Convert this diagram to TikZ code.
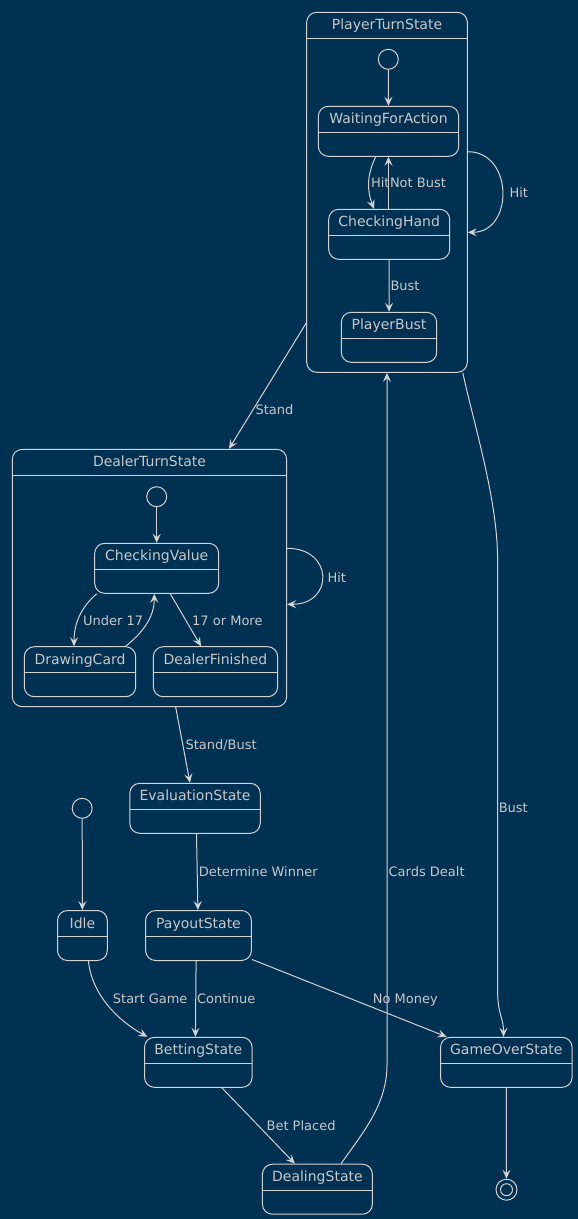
\documentclass[tikz,border=0pt]{standalone}
\usepackage{fontspec}
\setmainfont{DejaVu Sans}
\usetikzlibrary{arrows.meta}
\definecolor{bgblue}{HTML}{003153}
\definecolor{linegray}{HTML}{D3D3D3}
\definecolor{textgray}{HTML}{C8C8C8}

\begin{document}
\begin{tikzpicture}[
  x=1pt, y=-1pt,
  line width=1pt,
  > = {Stealth[length=9pt,width=8pt,inset=3.5pt]},
  arr/.style = {draw=linegray, ->},
  statebox/.style = {draw=linegray, rounded corners=10pt, minimum height=50pt, inner sep=0pt,
    path picture={\draw[linegray, sharp corners] ([yshift=-26pt]path picture bounding box.north west) -- ([yshift=-26pt]path picture bounding box.north east);}},
  statename/.style = {text=textgray, font=\fontsize{14pt}{16pt}\selectfont, inner sep=0pt, text height=10pt, text depth=0pt},
  edgelabel/.style = {text=textgray, font=\fontsize{13pt}{15pt}\selectfont, inner sep=0pt, anchor=west, text height=9pt, text depth=0pt},
  startdot/.style = {circle, draw=linegray, minimum size=20pt, inner sep=0pt},
  enddot/.style = {circle, draw=linegray, minimum size=21pt, inner sep=0pt,
    path picture={\draw[linegray] (path picture bounding box.center) circle[radius=6pt];}}
  ]
  \fill[bgblue] (0,0) rectangle (578,1219);
  \useasboundingbox (0,0) rectangle (578,1219);

  % player turn
  \node[statebox, minimum width=160.6pt, minimum height=360pt] (player) at (387,192.3) {};
  \node[statename] (player-name) at ([yshift=-13pt]player.north) {PlayerTurnState};
  \node[startdot] (player-start) at (388.3,59.3) {};
  \node[statebox, minimum width=140.4pt] (wfa) at (388.5,131.3) {};
  \node[statename] (wfa-name) at ([yshift=-13pt]wfa.north) {WaitingForAction};
  \node[statebox, minimum width=121pt] (chand) at (389.2,234.3) {};
  \node[statename] (chand-name) at ([yshift=-13pt]chand.north) {CheckingHand};
  \node[statebox, minimum width=95.4pt] (pbust) at (389,337.3) {};
  \node[statename] (pbust-name) at ([yshift=-13pt]pbust.north) {PlayerBust};

  % dealer turn
  \node[statebox, minimum width=274.4pt, minimum height=257.4pt] (dealer) at (149.5,578) {};
  \node[statename] (dealer-name) at ([yshift=-13pt]dealer.north) {DealerTurnState};
  \node[startdot] (dealer-start) at (156.7,496.7) {};
  \node[statebox, minimum width=124pt] (cval) at (156.7,568.3) {};
  \node[statename] (cval-name) at ([yshift=-13pt]cval.north) {CheckingValue};
  \node[statebox, minimum width=111.4pt] (dcard) at (80,671.7) {};
  \node[statename] (dcard-name) at ([yshift=-13pt]dcard.north) {DrawingCard};
  \node[statebox, minimum width=124.4pt] (dfin) at (215.5,671.7) {};
  \node[statename] (dfin-name) at ([yshift=-13pt]dfin.north) {DealerFinished};

  % top level
  \node[startdot] (start) at (82.2,808.3) {};
  \node[statebox, minimum width=49.8pt] (idle) at (82.4,935.5) {};
  \node[statename] (idle-name) at ([yshift=-13pt]idle.north) {Idle};
  \node[statebox, minimum width=130.5pt] (eval) at (195,808.3) {};
  \node[statename] (eval-name) at ([yshift=-13pt]eval.north) {EvaluationState};
  \node[statebox, minimum width=105.8pt] (payout) at (198.5,935.5) {};
  \node[statename] (payout-name) at ([yshift=-13pt]payout.north) {PayoutState};
  \node[statebox, minimum width=107.6pt] (betting) at (198.3,1062.3) {};
  \node[statename] (betting-name) at ([yshift=-13pt]betting.north) {BettingState};
  \node[statebox, minimum width=131.6pt] (gameover) at (506.3,1062.3) {};
  \node[statename] (gameover-name) at ([yshift=-13pt]gameover.north) {GameOverState};
  \node[statebox, minimum width=110pt] (dealing) at (317.4,1189.2) {};
  \node[statename] (dealing-name) at ([yshift=-13pt]dealing.north) {DealingState};
  \node[enddot] (final) at (506.5,1189.7) {};

  \coordinate (dealt-bend) at (387,1065);
  \coordinate (bust-top) at (497.6,560);
  \coordinate (bust-low) at (497.6,990);

  % transitions inside player turn
  \draw[arr] (player-start) -- (wfa);
  \draw[arr] ([xshift=-12.8pt]wfa.south) .. controls +(-9,18) and +(-7,-18) .. ([xshift=-15.2pt]chand.north);
  \draw[arr] (chand.north -| wfa.south) -- (wfa.south);
  \draw[arr] (chand) -- (pbust);
  \draw[arr] ([yshift=40.6pt]player.east) .. controls +(46,0) and +(46,0) .. ([yshift=-40pt]player.east);
  \node[edgelabel] (l-hit) at (370.5,183) {Hit};
  \node[edgelabel] (l-notbust) at (389.5,183) {Not Bust};
  \node[edgelabel] (l-pbust) at (390,285.7) {Bust};
  \node[edgelabel] (l-phit) at (509,192.7) {Hit};

  % transitions inside dealer turn
  \draw[arr] (dealer-start) -- (cval);
  \draw[arr] ([xshift=-60pt]cval.south) .. controls +(-14,12) and +(0,-25) .. ([xshift=-6pt]dcard.north);
  \draw[arr] ([xshift=45.7pt]dcard.north) .. controls +(15,-12) and +(0,25) .. ([xshift=-2.4pt]cval.south);
  \draw[arr] ([xshift=13.6pt]cval.south) -- ([xshift=-14.5pt]dfin.north);
  \draw[arr] ([yshift=29.7pt]dealer.east) .. controls +(46.7,0) and +(46.7,0) .. ([yshift=-26.3pt]dealer.east);
  \node[edgelabel] (l-under) at (82.7,620.7) {Under 17};
  \node[edgelabel] (l-more) at (191.7,620.7) {17 or More};
  \node[edgelabel] (l-dhit) at (327,578) {Hit};

  % top level transitions
  \draw[arr] ([yshift=-130.7pt]player.west) -- ([xshift=79.5pt]dealer.north);
  \draw[arr] ([xshift=26.2pt]dealer.south) -- ([xshift=-5pt]eval.north);
  \draw[arr] (start) -- (idle);
  \draw[arr] ([xshift=6pt]idle.south) .. controls +(3.6,35) and +(-27.4,-15) .. ([xshift=-50.9pt]betting.north);
  \draw[arr] ([xshift=1.5pt]eval.south) -- ([xshift=-0.6pt]payout.north);
  \draw[arr] ([xshift=-2.4pt]payout.south) -- ([xshift=-2.9pt]betting.north);
  \draw[arr] ([yshift=1.6pt]payout.south east) -- ([xshift=6.6pt]gameover.north west);
  \draw[arr] ([xshift=23.6pt]betting.south) -- ([xshift=-22.5pt]dealing.north);
  \draw[arr] ([xshift=23.6pt]dealing.north) .. controls +(21,-30) and +(0,40) .. (dealt-bend) -- (player.south);
  \draw[arr] ([xshift=-5pt]player.south east) .. controls +(12,55) and +(0,-60) .. (bust-top) -- (bust-low) .. controls +(0,25) and +(0,-20) .. ([xshift=-2.8pt]gameover.north);
  \draw[arr] (gameover) -- (final);
  \node[edgelabel] (l-stand) at (255,410) {Stand};
  \node[edgelabel] (l-standbust) at (185,745) {Stand/Bust};
  \node[edgelabel] (l-start) at (112.4,999.3) {Start Game};
  \node[edgelabel] (l-winner) at (198.3,872.3) {Determine Winner};
  \node[edgelabel] (l-continue) at (196.5,999.3) {Continue};
  \node[edgelabel] (l-money) at (372.3,999.3) {No Money};
  \node[edgelabel] (l-placed) at (266.1,1126) {Bet Placed};
  \node[edgelabel] (l-dealt) at (388.1,872.3) {Cards Dealt};
  \node[edgelabel] (l-bust) at (498.3,808.3) {Bust};

\end{tikzpicture}
\end{document}
